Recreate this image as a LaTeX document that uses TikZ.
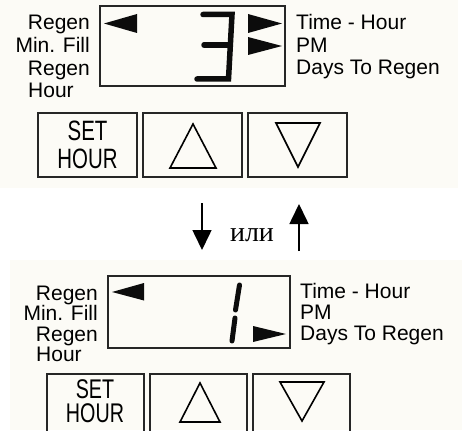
\documentclass[tikz,border=0pt]{standalone}
\usepackage{graphicx}
\usepackage{fontspec}
\setmainfont{Liberation Sans}
\newfontfamily\serifru{Liberation Serif}
\usetikzlibrary{arrows.meta,positioning}
\definecolor{panelbg}{RGB}{252,251,246}
\definecolor{lcdink}{RGB}{12,12,12}
\newcommand{\keynarrow}[1]{\scalebox{0.73}[1]{#1}}
\tikzset{
  lcd_box/.style={rectangle,draw=black!85,line width=2pt,inner sep=0pt},
  key_box/.style={rectangle,draw=black!85,line width=2pt,inner sep=0pt,
    minimum height=64pt},
  key_txt/.style={inner sep=0pt,align=center,
    font=\fontsize{28}{27.5}\selectfont},
  lbl_l/.style={anchor=base east,inner sep=0pt,
    font=\fontsize{21}{22}\selectfont},
  lbl_r/.style={anchor=base west,inner sep=0pt,
    font=\fontsize{21}{22}\selectfont},
  seg/.style={line width=5.5pt,line cap=round,line join=miter,draw=lcdink},
  wedge/.style={fill=lcdink},
  key_tri/.style={line width=1.6pt,line join=miter},
  arr/.style={-{Triangle[width=19pt,length=20pt]},line width=1.6pt},
}

\begin{document}
\begin{tikzpicture}[x=1pt,y=-1pt,node distance=4pt]
  \clip (0,0) rectangle (462,430);
  \fill[panelbg] (0,0) rectangle (458,188);
  \fill[panelbg] (10,260) rectangle (462,430);

  % Upper panel: display
  \node (disp_a) [lcd_box,minimum width=185pt,minimum height=80pt]
    at (192.5,46) {};
  \fill[wedge] (104,23.5) -- (137,14) -- (137,33) -- cycle;
  \fill[wedge] (282,23.5) -- (248,14) -- (248,33) -- cycle;
  \fill[wedge] (282,46) -- (248,37) -- (248,55) -- cycle;
  \draw[seg] (203,14.5) -- (232,14.5) -- (228.5,79) -- (197,79);
  \draw[seg] (204,45) -- (229.5,45);
  \node (la_regen) [lbl_l] at (90,30) {Regen};
  \node (la_fill)  [lbl_l] at (90,52.7) {Min. Fill};
  \node (la_rhour) [lbl_l] at (90,75.4) {Regen};
  \node (la_hour)  [lbl_r] at (28,98) {Hour};
  \node (ra_time)  [lbl_r] at (296,29.5) {Time - Hour};
  \node (ra_pm)    [lbl_r] at (296,52.2) {PM};
  \node (ra_days)  [lbl_r] at (296,75) {Days To Regen};

  % Upper panel: keys
  \node (key_set_a) [key_box,minimum width=99pt] at (87.5,145) {};
  \node (key_up_a)  [key_box,minimum width=99pt,right=of key_set_a] {};
  \node (key_dn_a)  [key_box,minimum width=99pt,right=of key_up_a] {};
  \node (txt_set_a) [key_txt] at (key_set_a.center)
    {\keynarrow{SET}\\\keynarrow{HOUR}};
  \draw[key_tri] (193,124) -- (216,168) -- (170,168) -- cycle;
  \draw[key_tri] (276,123) -- (320,123) -- (298,167) -- cycle;

  % Step arrows
  \coordinate (dn_from) at (202,203);
  \coordinate (dn_to)   at (202,250);
  \coordinate (up_from) at (299,251);
  \coordinate (up_to)   at (299,204);
  \draw[arr] (dn_from) -- (dn_to);
  \draw[arr] (up_from) -- (up_to);
  \node (ili) [anchor=base,inner sep=0pt,
    font=\serifru\fontsize{28}{30}\selectfont] at (252,241) {или};

  % Lower panel: display
  \node (disp_b) [lcd_box,minimum width=182pt,minimum height=72pt]
    at (199,312) {};
  \fill[wedge] (112,292) -- (144,283) -- (144,300.5) -- cycle;
  \fill[wedge] (286,334) -- (253,326) -- (253,342) -- cycle;
  \draw[seg,line width=5pt] (239.5,285) -- (235.5,310);
  \draw[seg,line width=5pt] (235,318) -- (232,341);
  \node (lb_regen) [lbl_l] at (98,300) {Regen};
  \node (lb_fill)  [lbl_l] at (98,320.5) {Min. Fill};
  \node (lb_rhour) [lbl_l] at (98,341) {Regen};
  \node (lb_hour)  [lbl_r] at (36,361) {Hour};
  \node (rb_time)  [lbl_r] at (300,298) {Time - Hour};
  \node (rb_pm)    [lbl_r] at (300,319) {PM};
  \node (rb_days)  [lbl_r] at (300,340) {Days To Regen};

  % Lower panel: keys
  \node (key_set_b) [key_box,minimum width=97pt] at (95,406) {};
  \node (key_up_b)  [key_box,minimum width=97pt,right=of key_set_b] {};
  \node (key_dn_b)  [key_box,minimum width=97pt,right=of key_up_b] {};
  \node (txt_set_b) [key_txt,font=\fontsize{27}{24}\selectfont]
    at (95,401.5) {\keynarrow{SET}\\\keynarrow{HOUR}};
  \draw[key_tri] (200,383) -- (220,422) -- (180,422) -- cycle;
  \draw[key_tri] (280,382) -- (324,382) -- (302,421) -- cycle;
\end{tikzpicture}
\end{document}
